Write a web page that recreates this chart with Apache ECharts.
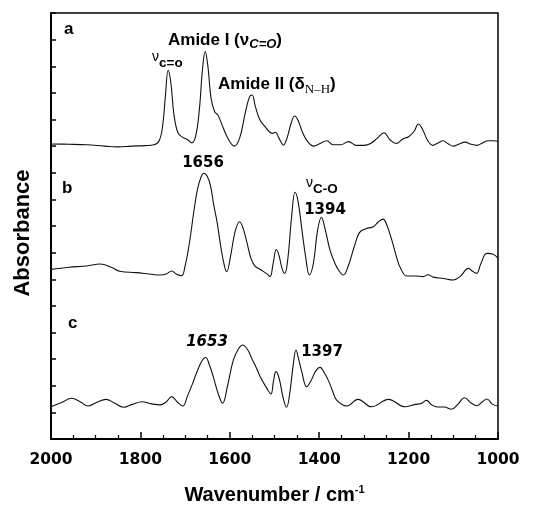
<!DOCTYPE html>
<html>
<head>
<meta charset="utf-8">
<script src="https://cdn.jsdelivr.net/npm/echarts@6/dist/echarts.min.js"></script>
<style>
  html, body { margin: 0; padding: 0; background: #fff; }
  #chart { width: 533px; height: 506px; }
</style>
</head>
<body>
<div id="chart"></div>
<script>
// IR spectra, three stacked traces (a, b, c); absorbance in plot units (0..16)
const xTicks = [2000, 1800, 1600, 1400, 1200, 1000];

const waveA = [2000, 1960, 1920, 1880, 1850, 1820, 1790, 1770, 1758, 1750, 1744, 1738, 1732, 1725, 1716, 1705, 1695, 1685, 1676, 1668, 1661, 1655, 1649, 1642, 1634, 1626, 1615, 1603, 1590, 1578, 1566, 1556, 1550, 1543, 1533, 1522, 1512, 1505, 1498, 1490, 1480, 1472, 1463, 1455, 1447, 1437, 1425, 1412, 1398, 1383, 1368, 1352, 1334, 1318, 1300, 1285, 1270, 1255, 1242, 1228, 1212, 1200, 1188, 1178, 1168, 1157, 1146, 1134, 1123, 1111, 1100, 1087, 1074, 1060, 1047, 1035, 1022, 1010, 1000];
const absA = [11.08, 11.07, 11.05, 11.0, 10.97, 11.0, 11.02, 11.05, 11.2, 11.8, 12.9, 13.85, 13.4, 12.2, 11.5, 11.33, 11.25, 11.12, 11.4, 12.4, 13.9, 14.55, 14.0, 12.8, 12.3, 12.15, 11.7, 11.25, 11.0, 11.3, 12.2, 12.85, 12.92, 12.5, 12.0, 11.75, 11.55, 11.48, 11.52, 11.3, 11.04, 11.3, 11.85, 12.13, 11.95, 11.5, 11.15, 11.0, 11.1, 11.2, 11.05, 11.05, 11.17, 11.03, 11.03, 11.1, 11.3, 11.5, 11.25, 11.1, 11.28, 11.35, 11.55, 11.83, 11.6, 11.2, 11.03, 11.12, 11.2, 11.08, 11.0, 11.08, 11.15, 11.07, 11.03, 11.12, 11.2, 11.2, 11.18];

const waveB = [2000, 1960, 1920, 1890, 1865, 1846, 1810, 1780, 1756, 1742, 1730, 1720, 1708, 1700, 1690, 1680, 1672, 1664, 1658, 1650, 1643, 1636, 1628, 1620, 1612, 1607, 1598, 1588, 1578, 1570, 1562, 1553, 1544, 1530, 1517, 1510, 1503, 1496, 1490, 1483, 1477, 1470, 1462, 1454, 1447, 1439, 1430, 1422, 1413, 1404, 1395, 1387, 1376, 1365, 1355, 1346, 1335, 1322, 1310, 1295, 1279, 1268, 1257, 1248, 1238, 1228, 1219, 1204, 1185, 1167, 1157, 1145, 1122, 1100, 1085, 1066, 1057, 1048, 1038, 1025, 1012, 1000];
const absB = [6.37, 6.45, 6.5, 6.57, 6.45, 6.3, 6.25, 6.2, 6.16, 6.2, 6.31, 6.2, 6.13, 6.5, 7.4, 8.6, 9.4, 9.85, 9.98, 9.85, 9.5, 8.8, 8.1, 7.2, 6.5, 6.28, 6.9, 7.8, 8.16, 7.9, 7.4, 6.8, 6.5, 6.35, 6.2, 6.1, 6.6, 7.12, 6.9, 6.4, 6.22, 6.8, 8.3, 9.27, 8.9, 7.9, 6.8, 6.16, 6.6, 7.8, 8.33, 7.9, 7.1, 6.6, 6.3, 6.16, 6.5, 7.2, 7.75, 7.9, 7.97, 8.15, 8.26, 8.0, 7.5, 6.9, 6.45, 6.12, 6.12, 6.1, 6.17, 6.08, 6.03, 5.97, 6.1, 6.41, 6.3, 6.22, 6.6, 6.97, 6.95, 6.79];

const waveC = [2000, 1975, 1954, 1935, 1917, 1897, 1877, 1858, 1838, 1818, 1797, 1775, 1756, 1742, 1730, 1718, 1705, 1695, 1684, 1674, 1662, 1654, 1646, 1637, 1626, 1616, 1605, 1592, 1580, 1571, 1560, 1551, 1540, 1532, 1517, 1508, 1502, 1497, 1490, 1480, 1473, 1466, 1458, 1452, 1446, 1439, 1428, 1418, 1408, 1398, 1389, 1380, 1370, 1361, 1338, 1313, 1283, 1245, 1208, 1185, 1172, 1160, 1148, 1135, 1120, 1104, 1090, 1075, 1060, 1047, 1035, 1025, 1012, 1000];
const absC = [1.21, 1.38, 1.53, 1.4, 1.24, 1.38, 1.49, 1.35, 1.19, 1.3, 1.4, 1.32, 1.28, 1.4, 1.59, 1.4, 1.24, 1.6, 2.05, 2.5, 2.95, 3.06, 2.8, 2.34, 1.7, 1.34, 2.0, 2.97, 3.4, 3.53, 3.35, 3.03, 2.65, 2.34, 1.9, 1.69, 2.2, 2.53, 2.3, 1.5, 1.19, 1.7, 2.8, 3.34, 3.0, 2.53, 1.96, 2.2, 2.55, 2.69, 2.5, 2.22, 1.8, 1.46, 1.24, 1.49, 1.21, 1.49, 1.21, 1.3, 1.33, 1.45, 1.28, 1.2, 1.2, 1.12, 1.3, 1.55, 1.35, 1.25, 1.4, 1.5, 1.3, 1.24];

const zip = (xs, ys) => xs.map((x, i) => [x, ys[i]]);

const BOLD = 'DejaVu Sans';
const SANS = 'Liberation Sans';

function label(x, y, text, rich, align) {
  return {
    type: 'text', x: x, y: y, silent: true,
    style: {
      text: text, rich: rich, fill: '#000',
      font: 'bold 16px "' + SANS + '"',
      align: align || 'left', verticalAlign: 'middle'
    }
  };
}

const richMain = {
  m: { fontFamily: SANS, fontWeight: 'bold', fontSize: 17, color: '#000' },
  n: { fontFamily: SANS, fontSize: 14, color: '#000', padding: [0, 0, 6, 0] },
  s: { fontFamily: SANS, fontWeight: 'bold', fontSize: 13.5, color: '#000', padding: [7, 0, 0, 0] },
  si: { fontFamily: SANS, fontWeight: 'bold', fontStyle: 'italic', fontSize: 13, color: '#000', padding: [9, 0, 0, 0] },
  ss: { fontFamily: 'Liberation Serif', fontSize: 13, color: '#000', padding: [12, 0, 0, 0] },
  d: { fontFamily: BOLD, fontWeight: 'bold', fontSize: 15, color: '#000' },
  di: { fontFamily: BOLD, fontWeight: 'bold', fontStyle: 'italic', fontSize: 15, color: '#000' },
  sup: { fontFamily: SANS, fontWeight: 'bold', fontSize: 11, color: '#000', padding: [0, 0, 11, 0] }
};

const chart = echarts.init(document.getElementById('chart'), null, { renderer: 'canvas' });

const lineSeries = (data) => ({
  type: 'line', data: data, showSymbol: false, smooth: 0.4, silent: true,
  lineStyle: { color: '#111', width: 1.1 }
});

chart.setOption({
  animation: false,
  backgroundColor: '#fff',
  grid: {
    left: 51, right: 35, top: 13, bottom: 67, outerBoundsMode: 'none',
    show: true, borderColor: '#000', borderWidth: 1.5
  },
  xAxis: {
    type: 'value', min: 1000, max: 2000, interval: 200, inverse: true,
    axisLine: { show: true, onZero: false, lineStyle: { color: '#000', width: 2 } },
    axisTick: { inside: true, length: 7, lineStyle: { color: '#000', width: 1.5 } },
    minorTick: { show: true, splitNumber: 4, length: 4, lineStyle: { color: '#000', width: 1.2 } },
    splitLine: { show: false },
    axisLabel: {
      color: '#000', fontFamily: BOLD, fontWeight: 'bold', fontSize: 15.5, margin: 13,
      formatter: (v) => (xTicks.indexOf(v) >= 0 ? String(v) : '')
    },
    name: '{t|Wavenumber / cm}{sup|-1}',
    nameLocation: 'middle', nameGap: 45,
    nameTextStyle: {
      rich: {
        t: { fontFamily: SANS, fontWeight: 'bold', fontSize: 20, color: '#000' },
        sup: richMain.sup
      }
    }
  },
  yAxis: {
    type: 'value', min: 0, max: 16, interval: 1,
    axisLine: { show: true, lineStyle: { color: '#000', width: 2 } },
    axisTick: { inside: true, length: 5, lineStyle: { color: '#000', width: 1.5 } },
    axisLabel: { show: false },
    splitLine: { show: false },
    name: 'Absorbance', nameLocation: 'middle', nameGap: 17, nameRotate: 90,
    nameTextStyle: {
      fontFamily: SANS, fontWeight: 'bold', fontSize: 22, color: '#000',
      padding: [0, 14, 0, 0]
    }
  },
  series: [
    lineSeries(zip(waveA, absA)),
    lineSeries(zip(waveB, absB)),
    lineSeries(zip(waveC, absC))
  ],
  graphic: [
    label(64, 29, '{m|a}', richMain),
    label(62, 188, '{m|b}', richMain),
    label(68, 323, '{m|c}', richMain),
    label(152, 60, '{n|ν}{s|c=o}', richMain),
    label(168, 40, '{m|Amide I (ν}{si|C=O}{m|)}', richMain),
    label(218, 84, '{m|Amide II (δ}{ss|N–H}{m|)}', richMain),
    label(203, 163, '{d|1656}', richMain, 'center'),
    label(306, 186, '{n|ν}{s|C-O}', richMain),
    label(325, 210, '{d|1394}', richMain, 'center'),
    label(207, 342, '{di|1653}', richMain, 'center'),
    label(322, 352, '{d|1397}', richMain, 'center')
  ]
});
</script>
</body>
</html>
